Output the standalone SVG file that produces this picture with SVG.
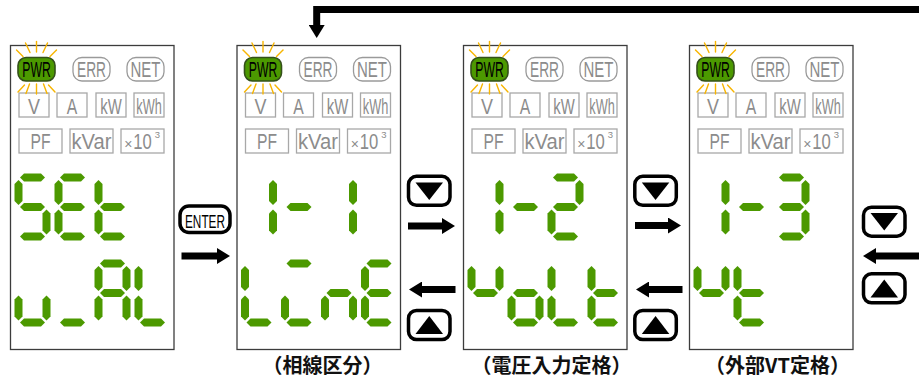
<svg xmlns="http://www.w3.org/2000/svg" xmlns:xlink="http://www.w3.org/1999/xlink" width="919" height="378" viewBox="0 0 919 378">
<style>
.frame{fill:#fff;stroke:#3c3c3c;stroke-width:1.3}
.seg{fill:#4c9900}
.ray{stroke:#f7b500;stroke-width:1.4;stroke-linecap:round}
.pill{fill:#fff;stroke:#9a9a9a;stroke-width:1.3}
.pwr{fill:#4c9900;stroke:#34501a;stroke-width:1.6}
.box{fill:#fff;stroke:#a8a8a8;stroke-width:1.3}
.ind{font-family:"Liberation Sans",Arial,sans-serif;font-size:22.5px;fill:#8c8c8c;text-anchor:middle}
.btn{fill:#fff;stroke:#000;stroke-width:3.5}
.tri{fill:#000}
.conn{fill:none;stroke:#000;stroke-width:7}
.lbl{font-family:"Noto Sans CJK JP",sans-serif;font-weight:bold;font-size:20px;text-anchor:middle;fill:#111}
</style>
<defs>
<marker id="ah" viewBox="0 0 13 16" markerWidth="13" markerHeight="16" refX="1" refY="8" orient="auto" markerUnits="userSpaceOnUse"><path d="M0,0 L13,8 L0,16 Z" fill="#000"/></marker>
<path id="sa" d="M1.5,0 l4,-4 h17 l4,4 l-4,4 h-17z"/>
<path id="sg" d="M1.5,29.5 l4,-4 h17 l4,4 l-4,4 h-17z"/>
<path id="sd" d="M1.5,59 l4,-4 h17 l4,4 l-4,4 h-17z"/>
<path id="sf" d="M0,2.5 l4,4 v17 l-4,4 l-4,-4 v-17z"/>
<path id="sb" d="M28,2.5 l4,4 v17 l-4,4 l-4,-4 v-17z"/>
<path id="se" d="M0,32 l4,4 v17 l-4,4 l-4,-4 v-17z"/>
<path id="sc" d="M28,32 l4,4 v17 l-4,4 l-4,-4 v-17z"/>
<g id="ind">
<rect class="box" x="8.5" y="93" width="30" height="24"/>
<rect class="box" x="46.5" y="93" width="30" height="24"/>
<rect class="box" x="85.5" y="93" width="30" height="24"/>
<rect class="box" x="123.5" y="93" width="30" height="24"/>
<rect class="box" x="8.5" y="129" width="43" height="24"/>
<rect class="box" x="59.5" y="129" width="43" height="24"/>
<rect class="box" x="110.5" y="129" width="43" height="24"/>
<g class="ray">
<line x1="26" y1="41.5" x2="26" y2="52"/>
<line x1="15" y1="43" x2="19.5" y2="52.5"/>
<line x1="37" y1="43" x2="32.5" y2="52.5"/>
<line x1="6" y1="50" x2="12.5" y2="56.5"/>
<line x1="46" y1="50" x2="39.5" y2="56.5"/>
<line x1="26" y1="84" x2="26" y2="94"/>
<line x1="15.5" y1="93.5" x2="19" y2="84"/>
<line x1="36.5" y1="93.5" x2="33" y2="84"/>
<line x1="7.5" y1="92" x2="14" y2="85"/>
<line x1="44.5" y1="92" x2="38" y2="85"/>
</g>
<rect class="pwr" x="7.5" y="57.5" width="37" height="23.5" rx="8"/>
<rect class="pill" x="62.5" y="57.5" width="37" height="23.5" rx="9"/>
<rect class="pill" x="116.5" y="57.5" width="37" height="23.5" rx="9"/>
<g class="ind">
<text x="26" y="76.8" font-size="22" textLength="28.5" lengthAdjust="spacingAndGlyphs" style="fill:#000">PWR</text>
<text x="81" y="76.8" font-size="21.5" textLength="29" lengthAdjust="spacingAndGlyphs">ERR</text>
<text x="135" y="76.8" font-size="21.5" textLength="30" lengthAdjust="spacingAndGlyphs">NET</text>
<text x="23.5" y="113.5" textLength="12" lengthAdjust="spacingAndGlyphs">V</text>
<text x="61.5" y="113.5" textLength="10.5" lengthAdjust="spacingAndGlyphs">A</text>
<text x="100.5" y="113.5" textLength="21.5" lengthAdjust="spacingAndGlyphs">kW</text>
<text x="138.5" y="113.5" textLength="25.5" lengthAdjust="spacingAndGlyphs">kWh</text>
<text x="30" y="148.5" textLength="20" lengthAdjust="spacingAndGlyphs">PF</text>
<text x="81" y="148.5" textLength="40" lengthAdjust="spacingAndGlyphs">kVar</text>
<text y="148.5"><tspan x="117.8" font-size="14">×</tspan><tspan x="132" textLength="18.5" lengthAdjust="spacingAndGlyphs">10</tspan><tspan x="147" y="137.5" font-size="9.5">3</tspan></text>
</g>
</g>
</defs>

<g id="connectors">
<path class="conn" d="M919,9.5 H316.7 V26" marker-end="url(#ah)"/>
<line class="conn" x1="181.5" y1="256" x2="218" y2="256" marker-end="url(#ah)"/>
<line class="conn" x1="408" y1="226" x2="443" y2="226" marker-end="url(#ah)"/>
<line class="conn" x1="455.5" y1="289.5" x2="421" y2="289.5" marker-end="url(#ah)"/>
<line class="conn" x1="635" y1="225.5" x2="669" y2="225.5" marker-end="url(#ah)"/>
<line class="conn" x1="682.5" y1="289.5" x2="648" y2="289.5" marker-end="url(#ah)"/>
<line class="conn" x1="919" y1="256" x2="875" y2="256" marker-end="url(#ah)"/>
</g>

<g id="btn-enter">
<rect class="btn" x="180" y="206" width="50" height="26.5" rx="9"/>
<text x="205" y="228.3" font-family="Liberation Sans, Arial, sans-serif" font-size="19" text-anchor="middle" textLength="40" lengthAdjust="spacingAndGlyphs" fill="#000">ENTER</text>
</g>
<g id="btn-down-1"><rect class="btn" x="408.5" y="176.3" width="41.5" height="29" rx="8"/><polygon class="tri" points="415.5,182.5 443,182.5 429.25,200"/></g>
<g id="btn-up-1"><rect class="btn" x="408.5" y="310.5" width="41.5" height="29" rx="8"/><polygon class="tri" points="415.5,334 443,334 429.25,316"/></g>
<g id="btn-down-2"><rect class="btn" x="634.8" y="176.3" width="41.5" height="29" rx="8"/><polygon class="tri" points="641.8,182.5 669.3,182.5 655.55,200"/></g>
<g id="btn-up-2"><rect class="btn" x="634.8" y="310.5" width="41.5" height="29" rx="8"/><polygon class="tri" points="641.8,334 669.3,334 655.55,316"/></g>
<g id="btn-down-3"><rect class="btn" x="863.5" y="207.2" width="41.5" height="29" rx="8"/><polygon class="tri" points="870.5,213 898,213 884.25,230.5"/></g>
<g id="btn-up-3"><rect class="btn" x="863.5" y="273.8" width="41.5" height="29" rx="8"/><polygon class="tri" points="870.5,297.5 898,297.5 884.25,279.5"/></g>

<g id="panel-set">
<rect class="frame" x="10.5" y="45.5" width="163.5" height="304"/>
<use href="#ind" x="10.5"/>
<g class="seg">
<g transform="translate(18.5,177.5)"><use href="#sa"/><use href="#sf"/><use href="#sg"/><use href="#sc"/><use href="#sd"/></g>
<g transform="translate(58.5,177.5)"><use href="#sa"/><use href="#sf"/><use href="#sg"/><use href="#se"/><use href="#sd"/></g>
<g transform="translate(98.5,177.5)"><use href="#sf"/><use href="#sg"/><use href="#se"/><use href="#sd"/></g>
<g transform="translate(18.5,263.5)"><use href="#se"/><use href="#sc"/><use href="#sd"/></g>
<g transform="translate(58.5,263.5)"><use href="#sd"/></g>
<g transform="translate(98.5,263.5)"><use href="#sa"/><use href="#sb"/><use href="#sc"/><use href="#se"/><use href="#sf"/><use href="#sg"/></g>
<g transform="translate(138.5,263.5)"><use href="#sf"/><use href="#se"/><use href="#sd"/></g>
</g>
</g>

<g id="panel-1-1">
<rect class="frame" x="237" y="45.5" width="163.5" height="304"/>
<use href="#ind" x="237"/>
<g class="seg">
<g transform="translate(245,177.5)"><use href="#sb"/><use href="#sc"/></g>
<g transform="translate(285,177.5)"><use href="#sg"/></g>
<g transform="translate(325,177.5)"><use href="#sb"/><use href="#sc"/></g>
<g transform="translate(245,263.5)"><use href="#sf"/><use href="#se"/><use href="#sd"/></g>
<g transform="translate(285,263.5)"><use href="#sa"/><use href="#se"/><use href="#sd"/></g>
<g transform="translate(325,263.5)"><use href="#se"/><use href="#sg"/><use href="#sc"/></g>
<g transform="translate(365,263.5)"><use href="#sa"/><use href="#sf"/><use href="#sg"/><use href="#se"/><use href="#sd"/></g>
</g>
<text class="lbl" x="322.5" y="373">（相線区分）</text>
</g>

<g id="panel-1-2">
<rect class="frame" x="463.5" y="45.5" width="163.5" height="304"/>
<use href="#ind" x="463.5"/>
<g class="seg">
<g transform="translate(471.5,177.5)"><use href="#sb"/><use href="#sc"/></g>
<g transform="translate(511.5,177.5)"><use href="#sg"/></g>
<g transform="translate(551.5,177.5)"><use href="#sa"/><use href="#sb"/><use href="#sg"/><use href="#se"/><use href="#sd"/></g>
<g transform="translate(471.5,263.5)"><use href="#sf"/><use href="#sb"/><use href="#sg"/></g>
<g transform="translate(511.5,263.5)"><use href="#sg"/><use href="#se"/><use href="#sc"/><use href="#sd"/></g>
<g transform="translate(551.5,263.5)"><use href="#sf"/><use href="#se"/><use href="#sd"/></g>
<g transform="translate(591.5,263.5)"><use href="#sf"/><use href="#sg"/><use href="#se"/><use href="#sd"/></g>
</g>
<text class="lbl" x="551.5" y="373">（電圧入力定格）</text>
</g>

<g id="panel-1-3">
<rect class="frame" x="689.5" y="45.5" width="163.5" height="304"/>
<use href="#ind" x="689.5"/>
<g class="seg">
<g transform="translate(697.5,177.5)"><use href="#sb"/><use href="#sc"/></g>
<g transform="translate(737.5,177.5)"><use href="#sg"/></g>
<g transform="translate(777.5,177.5)"><use href="#sa"/><use href="#sb"/><use href="#sg"/><use href="#sc"/><use href="#sd"/></g>
<g transform="translate(697.5,263.5)"><use href="#sf"/><use href="#sb"/><use href="#sg"/></g>
<g transform="translate(737.5,263.5)"><use href="#sf"/><use href="#sg"/><use href="#se"/><use href="#sd"/></g>
</g>
<text class="lbl" x="777.5" y="373">（外部VT定格）</text>
</g>
</svg>
